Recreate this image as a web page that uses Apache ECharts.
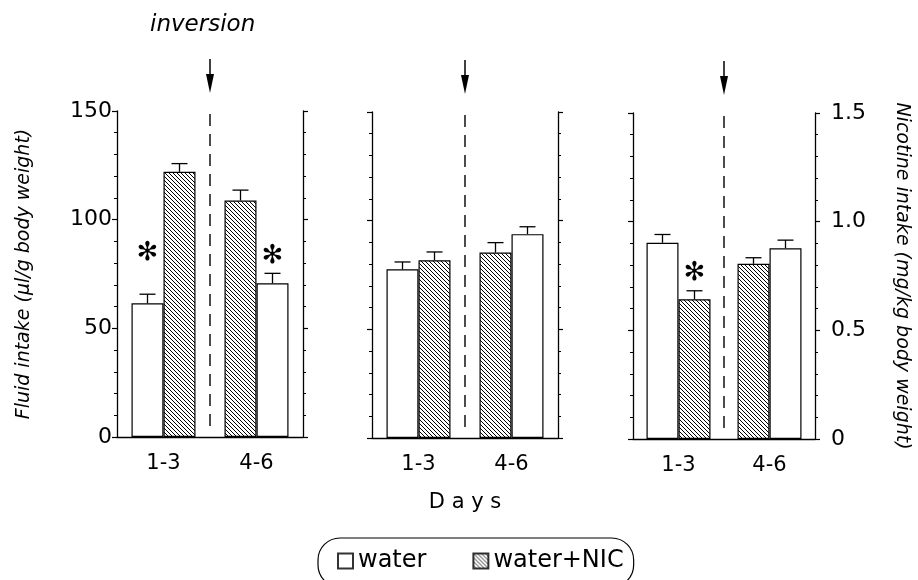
<!DOCTYPE html>
<html>
<head>
<meta charset="utf-8">
<script src="https://cdn.jsdelivr.net/npm/echarts@6/dist/echarts.min.js"></script>
<style>html,body{margin:0;padding:0;background:#fff}#c{width:918px;height:580px}</style>
</head>
<body>
<div id="c"></div>
<script>
// ---------- data ----------
const days = ['1-3', '4-6'];
// Panel A: fluid intake (µl/g body weight)
const waterA = [61.5, 70.7];
const waterAErr = [4.2, 4.6];
const nicA = [122.0, 108.8];
const nicAErr = [3.8, 4.8];
// Panel B: fluid intake (µl/g body weight)
const waterB = [77.6, 93.8];
const waterBErr = [3.4, 3.4];
const nicB = [81.8, 85.3];
const nicBErr = [3.8, 4.6];
// Panel C: nicotine intake (mg/kg body weight)
const waterC = [0.903, 0.878];
const waterCErr = [0.038, 0.037];
const nicC = [0.643, 0.806];
const nicCErr = [0.039, 0.028];
// significance marks: [day index, bar ('water'|'nic'), height]
const starsA = [[0, 'water', 84.6], [1, 'water', 83.0]];
const starsB = [];
const starsC = [[0, 'nic', 0.763]];
// bottle side per day index (inverted after day 3): -1 left, +1 right
const waterSide = [-1, 1];
const nicSide = [1, -1];
const fluidTicks = [0, 50, 100, 150];
const nicTicks = [0, 0.5, 1.0, 1.5];

// ---------- styling ----------
const FONT = 'DejaVu Sans';
const BAR_W = 32;
function makeHatch() {
  const c = document.createElement('canvas');
  c.width = 4; c.height = 4;
  const g = c.getContext('2d');
  g.fillStyle = '#fff'; g.fillRect(0, 0, 4, 4);
  g.fillStyle = '#000';
  for (let i = 0; i < 4; i++) g.fillRect(i, i, 1, 1);
  return c;
}
const hatch = { image: makeHatch(), repeat: 'repeat' };
const whiteStyle = { color: '#fff', borderColor: '#000', borderWidth: 1.2 };
const hatchStyle = { color: hatch, borderColor: '#000', borderWidth: 1.2 };

const grids = [
  { left: 117, top: 111, width: 186, height: 326 },
  { left: 372, top: 112, width: 186, height: 326 },
  { left: 633, top: 113, width: 182, height: 326 }
];

const panels = [
  { water: waterA, waterErr: waterAErr, nic: nicA, nicErr: nicAErr, stars: starsA, ticks: fluidTicks },
  { water: waterB, waterErr: waterBErr, nic: nicB, nicErr: nicBErr, stars: starsB, ticks: fluidTicks },
  { water: waterC, waterErr: waterCErr, nic: nicC, nicErr: nicCErr, stars: starsC, ticks: nicTicks }
];

const xAxes = [], yAxes = [], series = [];

function errRender(params, api) {
  const cat = api.value(0), val = api.value(1), err = api.value(2), side = api.value(3);
  const b = api.coord([cat, val]);
  const t = api.coord([cat, val + err]);
  const x = b[0] + side * BAR_W / 2;
  const st = { stroke: '#000', lineWidth: 1.3 };
  return { type: 'group', children: [
    { type: 'line', shape: { x1: x, y1: b[1], x2: x, y2: t[1] }, style: st },
    { type: 'line', shape: { x1: x - 8, y1: t[1], x2: x + 8, y2: t[1] }, style: st }
  ] };
}
function starRender(params, api) {
  const cat = api.value(0), side = api.value(1), y = api.value(2);
  const p = api.coord([cat, y]);
  return { type: 'text', style: { text: '\u273B', x: p[0] + side * BAR_W / 2, y: p[1],
    align: 'center', verticalAlign: 'middle', font: 'bold 26px ' + FONT, fill: '#000' } };
}
function dividerRender(params, api) {
  const cs = params.coordSys;
  const x = (api.coord([0, 0])[0] + api.coord([1, 0])[0]) / 2;
  const top = cs.y, bot = cs.y + cs.height;
  return { type: 'group', children: [
    { type: 'line', shape: { x1: x, y1: top + 3, x2: x, y2: bot - 7 },
      style: { stroke: '#000', lineWidth: 1.4, lineDash: [12, 8] } },
    { type: 'line', shape: { x1: x, y1: top - 52, x2: x, y2: top - 34 },
      style: { stroke: '#000', lineWidth: 1.5 } },
    { type: 'polygon', shape: { points: [[x - 4, top - 37], [x + 4, top - 37], [x, top - 18]] },
      style: { fill: '#000' } }
  ] };
}

panels.forEach((p, i) => {
  const isNic = i === 2;
  const max = isNic ? 1.5 : 150, interval = isNic ? 0.5 : 50;
  xAxes.push({
    type: 'category', gridIndex: i, data: days,
    axisLine: { lineStyle: { color: '#000', width: 1.3 } },
    axisTick: { show: false },
    axisLabel: { color: '#000', fontSize: 21, fontFamily: FONT, margin: 16 },
    name: i === 1 ? 'D a y s' : '', nameLocation: 'middle', nameGap: 54,
    nameTextStyle: { color: '#000', fontSize: 21, fontFamily: FONT }
  });
  const baseY = {
    type: 'value', gridIndex: i, min: 0, max: max, interval: interval,
    axisLine: { show: true, lineStyle: { color: '#000', width: 1.3 } },
    axisTick: { show: true, inside: false, length: 5, lineStyle: { color: '#000', width: 1.2 } },
    minorTick: { show: true, splitNumber: 5, length: 3, lineStyle: { color: '#000', width: 1 } },
    splitLine: { show: false }, minorSplitLine: { show: false }
  };
  yAxes.push(Object.assign({}, baseY, {
    position: 'left',
    axisLabel: { show: i === 0, color: '#000', fontSize: 22, fontFamily: FONT, margin: 5,
      formatter: v => String(v) },
    name: i === 0 ? 'Fluid intake (\u00B5l/g body weight)' : '',
    nameLocation: 'middle', nameGap: 83, nameRotate: 90,
    nameTextStyle: { color: '#000', fontSize: 19, fontStyle: 'italic', fontFamily: FONT }
  }));
  yAxes.push(Object.assign({}, baseY, {
    position: 'right',
    axisLabel: { show: i === 2, color: '#000', fontSize: 22, fontFamily: FONT, margin: 16,
      formatter: v => (v === 0 ? '0' : v.toFixed(1)) },
    name: i === 2 ? 'Nicotine intake (mg/kg body weight)' : '',
    nameLocation: 'middle', nameGap: 77, nameRotate: -90, nameMoveOverlap: false,
    nameTextStyle: { color: '#000', fontSize: 19, fontStyle: 'italic', fontFamily: FONT }
  }));
  const yl = i * 2;
  // left and right bar of each day group
  const leftData = days.map((d, k) => waterSide[k] < 0
    ? { value: p.water[k], itemStyle: whiteStyle } : { value: p.nic[k], itemStyle: hatchStyle });
  const rightData = days.map((d, k) => waterSide[k] > 0
    ? { value: p.water[k], itemStyle: whiteStyle } : { value: p.nic[k], itemStyle: hatchStyle });
  series.push({ type: 'bar', xAxisIndex: i, yAxisIndex: yl, barWidth: BAR_W, barGap: '0%',
    data: leftData, silent: true });
  series.push({ type: 'bar', xAxisIndex: i, yAxisIndex: yl, barWidth: BAR_W, barGap: '0%',
    data: rightData, silent: true });
  const errData = [];
  days.forEach((d, k) => {
    errData.push([k, p.water[k], p.waterErr[k], waterSide[k]]);
    errData.push([k, p.nic[k], p.nicErr[k], nicSide[k]]);
  });
  series.push({ type: 'custom', xAxisIndex: i, yAxisIndex: yl, data: errData,
    encode: { x: 0, y: 1 }, renderItem: errRender, silent: true, z: 5 });
  if (p.stars.length) {
    series.push({ type: 'custom', xAxisIndex: i, yAxisIndex: yl,
      data: p.stars.map(s => [s[0], s[1] === 'water' ? waterSide[s[0]] : nicSide[s[0]], s[2]]),
      encode: { x: 0, y: 2 }, renderItem: starRender, silent: true, z: 5 });
  }
  series.push({ type: 'custom', xAxisIndex: i, yAxisIndex: yl, data: [[0, 0]],
    encode: { x: 0, y: 1 }, renderItem: dividerRender, silent: true, z: 4 });
});

// legend-only series
series.push({ type: 'scatter', name: 'water', xAxisIndex: 0, yAxisIndex: 0, data: [], itemStyle: whiteStyle });
series.push({ type: 'scatter', name: 'water+NIC', xAxisIndex: 0, yAxisIndex: 0, data: [], itemStyle: hatchStyle });

const option = {
  animation: false,
  backgroundColor: '#fff',
  grid: grids,
  xAxis: xAxes,
  yAxis: yAxes,
  series: series,
  legend: {
    left: 318, top: 538,
    data: [{ name: 'water', icon: 'rect' }, { name: 'water+NIC', icon: 'rect' }],
    itemWidth: 15, itemHeight: 15, itemGap: 46,
    padding: [11, 10, 14, 19],
    borderColor: '#000', borderWidth: 1.2, borderRadius: 22,
    textStyle: { color: '#000', fontSize: 24, fontFamily: FONT },
    selectedMode: false
  },
  graphic: [{
    type: 'text', left: 150, top: 14,
    style: { text: 'inversion', font: 'italic 23px ' + FONT, fill: '#000' }
  }]
};

const chart = echarts.init(document.getElementById('c'), null, { renderer: 'canvas' });
chart.setOption(option);
</script>
</body>
</html>
